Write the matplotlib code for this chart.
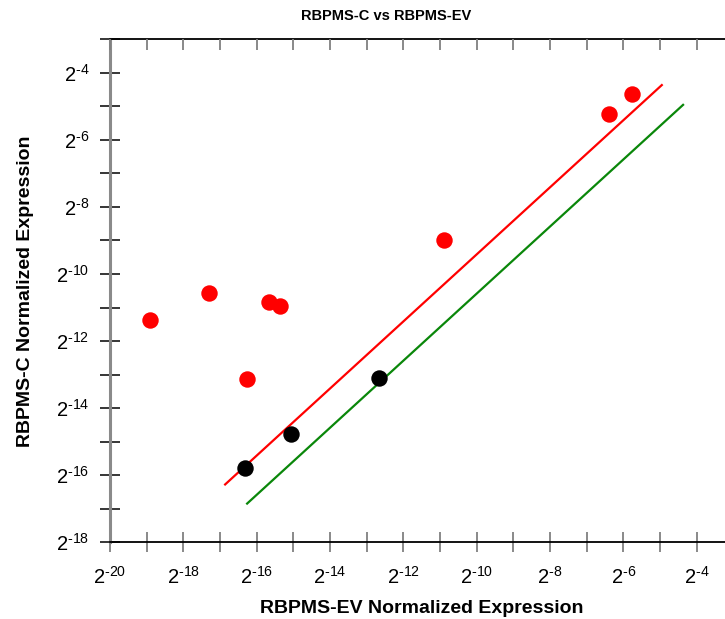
import matplotlib
matplotlib.use("Agg")
import matplotlib.pyplot as plt
from matplotlib.ticker import FixedLocator, FuncFormatter, NullFormatter
import numpy as np

plt.rcParams['font.family'] = ['Liberation Sans', 'DejaVu Sans']
plt.rcParams['mathtext.fontset'] = 'custom'
plt.rcParams['mathtext.rm'] = 'Liberation Sans'
plt.rcParams['mathtext.it'] = 'Liberation Sans:italic'
plt.rcParams['mathtext.bf'] = 'Liberation Sans:bold'

# log2 normalized expression values
up_ev_log2 = [-18.91, -17.29, -15.66, -15.36, -16.26, -10.89, -6.38, -5.76]
up_c_log2 = [-11.36, -10.57, -10.84, -10.95, -13.13, -9.00, -5.22, -4.63]
same_ev_log2 = [-16.33, -15.07, -12.67]
same_c_log2 = [-15.78, -14.78, -13.10]

# 1.5-fold boundary lines (log2 offset) and their x extents
fold_offset = np.log2(1.5)
upper_line_x = [-16.86, -4.95]
lower_line_x = [-16.26, -4.37]

x_range = (-20, -3)
y_range = (-18, -3)

W, H = 725, 619
fig = plt.figure(figsize=(W / 100, H / 100), dpi=100)
left, right, bottom, top = 110, 733.3, 619 - 542.3, 619 - 39.3
ax = fig.add_axes([left / W, bottom / H, (right - left) / W, (top - bottom) / H])

ax.set_xscale('log', base=2)
ax.set_yscale('log', base=2)

def p2(v):
    return 2.0 ** np.asarray(v, dtype=float)

ux = np.array(upper_line_x)
lx = np.array(lower_line_x)
ax.plot(p2(ux), p2(ux + fold_offset), color='#ff0000', lw=1.6, zorder=2)
ax.plot(p2(lx), p2(lx - fold_offset), color='#0a870a', lw=1.6, zorder=2)

ax.scatter(p2(up_ev_log2), p2(up_c_log2), s=140, color='#ff0000', linewidths=0, zorder=3)
ax.scatter(p2(same_ev_log2), p2(same_c_log2), s=140, color='#000000', linewidths=0, zorder=3)

ax.set_xlim(p2(x_range[0]), p2(x_range[1]))
ax.set_ylim(p2(y_range[0]), p2(y_range[1]))

def pow_label(v, pos):
    e = int(round(np.log2(v)))
    sign = r'\text{-}' if e < 0 else ''
    return r'$\mathregular{2^{%s%d}}$' % (sign, abs(e))

x_major = p2(np.arange(-20, -3, 2))
x_minor = p2(np.arange(-19, -2, 1))
y_major = p2(np.arange(-18, -3, 2))
y_minor = p2(np.arange(-17, -2, 1))

ax.xaxis.set_major_locator(FixedLocator(x_major))
ax.xaxis.set_minor_locator(FixedLocator(x_minor))
ax.yaxis.set_major_locator(FixedLocator(y_major))
ax.yaxis.set_minor_locator(FixedLocator(y_minor))
ax.xaxis.set_major_formatter(FuncFormatter(pow_label))
ax.yaxis.set_major_formatter(FuncFormatter(pow_label))
ax.xaxis.set_minor_formatter(NullFormatter())
ax.yaxis.set_minor_formatter(NullFormatter())

ax.tick_params(axis='x', which='both', direction='inout', length=14, width=1.3,
               color='#808080', labelsize=14.5, pad=10, top=False)
ax.tick_params(axis='y', which='both', direction='inout', length=14, width=1.1,
               color='#000000', labelsize=14.5, pad=8, right=False)

ax.spines['left'].set_color('#8a8a8a')
ax.spines['left'].set_linewidth(2.2)
ax.spines['bottom'].set_color('#000000')
ax.spines['bottom'].set_linewidth(1.3)
ax.spines['top'].set_color('#000000')
ax.spines['top'].set_linewidth(1.3)
ax.spines['right'].set_visible(False)

# top axis ticks pointing inward
ax_top = ax.twiny()
ax_top.set_xscale('log', base=2)
ax_top.set_xlim(ax.get_xlim())
ax_top.xaxis.set_major_locator(FixedLocator(x_major))
ax_top.xaxis.set_minor_locator(FixedLocator(x_minor))
ax_top.xaxis.set_major_formatter(NullFormatter())
ax_top.xaxis.set_minor_formatter(NullFormatter())
ax_top.tick_params(axis='x', which='both', direction='in', length=8, width=1.3,
                   color='#808080', top=True, bottom=False)
for s in ax_top.spines.values():
    s.set_visible(False)

ax.set_xlabel('RBPMS-EV Normalized Expression', fontsize=14, fontweight='bold', labelpad=9)
ax.set_ylabel('RBPMS-C Normalized Expression', fontsize=14, fontweight='bold', labelpad=16)
fig.text(386 / W, 1 - 16 / H, 'RBPMS-C vs RBPMS-EV', ha='center', va='center',
         fontsize=10.5, fontweight='bold')

fig.savefig('out.png', dpi=100)
